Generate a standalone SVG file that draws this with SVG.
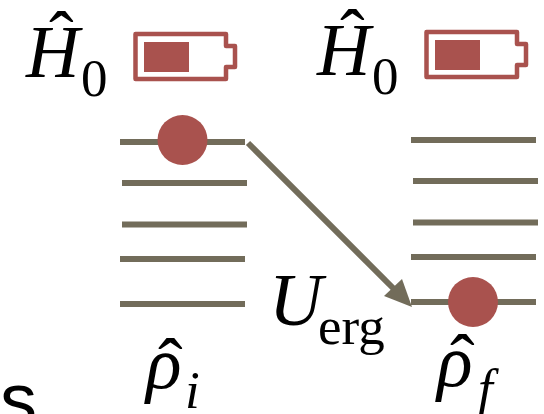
<svg xmlns="http://www.w3.org/2000/svg" width="544" height="414" viewBox="0 0 544 414">
<style>
.lv{stroke:#726c5a;stroke-width:6;fill:none}
.dot{fill:#a9524e}
.bat{fill:none;stroke:#a9524e;stroke-width:4.500;stroke-linejoin:round}
.m{font-family:"Liberation Serif",serif;fill:#000}
.i{font-style:italic}
</style>
<defs>
<g id="battery"><path class="bat" d="M135.500 34H226V46H235V67H226V79H135.500Z"/><rect class="dot" x="144" y="42" width="45" height="30"/></g>
<g id="hamil" class="m"><text class="m i" x="26" y="77" font-size="74">H</text><text class="m" x="49" y="63" font-size="74">ˆ</text><text class="m" x="81" y="96" font-size="53">0</text></g>
</defs>
<rect width="544" height="414" fill="#fff"/>
<g id="connectors"><line x1="248" y1="143" x2="396" y2="291" stroke="#726c5a" stroke-width="6"/><polygon points="412,307 384,296 402,279" fill="#726c5a"/></g>
<g id="left-levels"><line class="lv" x1="120" y1="142" x2="245" y2="142"/><line class="lv" x1="122" y1="183" x2="247" y2="183"/><line class="lv" x1="122" y1="224.500" x2="247" y2="224.500"/><line class="lv" x1="120" y1="259" x2="245" y2="259"/><line class="lv" x1="120" y1="304" x2="245" y2="304"/></g>
<g id="right-levels"><line class="lv" x1="411" y1="140" x2="536" y2="140"/><line class="lv" x1="413" y1="181" x2="538" y2="181"/><line class="lv" x1="413" y1="222.500" x2="538" y2="222.500"/><line class="lv" x1="411" y1="257" x2="536" y2="257"/><line class="lv" x1="411" y1="302" x2="536" y2="302"/></g>
<g id="node-left-dot"><circle class="dot" cx="182.500" cy="140" r="25"/></g>
<g id="node-right-dot"><circle class="dot" cx="473" cy="302" r="25"/></g>
<g id="node-h-left"><use href="#hamil"/></g>
<g id="node-battery-left"><use href="#battery"/></g>
<g id="node-h-right"><use href="#hamil" x="291" y="-2"/></g>
<g id="node-battery-right"><use href="#battery" x="291" y="-2"/></g>
<g id="node-rho-i"><text class="m i" x="146" y="388" font-size="74">ρ</text><text class="m" x="158" y="390" font-size="74">ˆ</text><text class="m i" x="185" y="408" font-size="53">i</text></g>
<g id="node-rho-f"><text class="m i" x="437" y="386" font-size="74">ρ</text><text class="m" x="450" y="386" font-size="74">ˆ</text><text class="m i" x="478" y="406" font-size="53">f</text></g>
<g id="node-uerg"><text class="m i" x="269" y="325" font-size="74">U</text><text class="m" x="318" y="344" font-size="53">erg</text></g>
<text id="node-s" x="0" y="425" font-family="Liberation Sans,sans-serif" font-size="74" fill="#000">s</text>
</svg>
